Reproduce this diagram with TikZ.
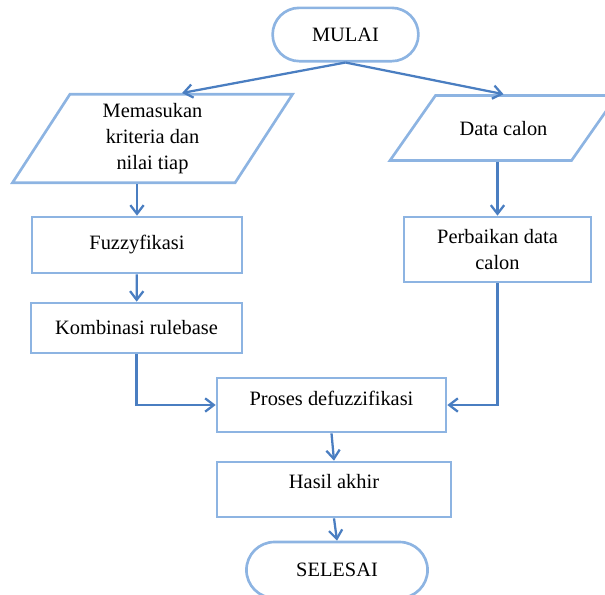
\documentclass[tikz,border=0pt]{standalone}
\usepackage{fontspec}
\setmainfont{Liberation Serif}
\usetikzlibrary{shapes.geometric,shapes.misc,arrows.meta,positioning}
\definecolor{boxblue}{RGB}{141,180,226}
\definecolor{lineblue}{RGB}{74,126,193}

\begin{document}
\begin{tikzpicture}[x=0.75pt,y=-0.75pt]
    \tikzstyle{terminal}=[rounded rectangle, draw=boxblue, line width=2pt, align=center, font=\fontsize{15.3}{18.9}\selectfont]
    \tikzstyle{io}=[trapezium, trapezium stretches body, draw=boxblue, line width=2pt, align=center, font=\fontsize{15.3}{19.2}\selectfont]
    \tikzstyle{proc}=[rectangle, draw=boxblue, line width=2pt, align=center, font=\fontsize{15.3}{18.9}\selectfont]
    \tikzstyle{connect}=[-{Straight Barb[length=6.5pt,width=10pt]}, draw=lineblue, line width=1.7pt]
      \useasboundingbox (0,0) rectangle (605,594);
      \node[terminal, minimum width=116pt, minimum height=40pt] (mulai) at (345.5,34.5) {MULAI};
      \node[io, trapezium left angle=57, trapezium right angle=123, inner ysep=7pt, minimum width=210pt] (input) at (152.5,138.5) {Memasukan\\kriteria dan\\nilai tiap};
      \node[io, trapezium left angle=55, trapezium right angle=125, text height=12pt, text depth=1.5pt, inner ysep=17.6pt, minimum width=170.25pt] (data) at (503.5,128) {Data calon};
      \node[proc, minimum width=157.5pt, minimum height=42pt] (fuzzy) at (137,245) {Fuzzyfikasi};
      \node[proc, minimum width=158.25pt, minimum height=37.5pt] (kombinasi) at (136.5,328) {Kombinasi rulebase};
      \node[proc, minimum width=140.25pt, minimum height=48.75pt] (perbaikan) at (497.5,249.5) {Perbaikan data\\calon};
      \node[proc, text height=10pt, text depth=10pt, minimum width=171.75pt, minimum height=40.5pt] (proses) at (331.5,405) {Proses defuzzifikasi};
      \node[proc, text height=10pt, text depth=12pt, minimum width=175.5pt, minimum height=41.25pt] (hasil) at (334,489.5) {Hasil akhir};
      \node[terminal, minimum width=142.5pt, minimum height=42pt] (selesai) at (337,570) {SELESAI};
      \draw[connect] (mulai.south) -- (input.top side);
      \draw[connect] (mulai.south) -- (data.north);
      \draw[connect] (input.bottom side -| fuzzy.north) -- (fuzzy.north);
      \draw[connect] (fuzzy) -- (kombinasi);
      \draw[connect] (kombinasi.south) |- (proses.west);
      \draw[connect] (data.bottom side -| perbaikan.north) -- (perbaikan.north);
      \draw[connect] (perbaikan.south) |- (proses.east);
      \draw[connect] (proses.south) -- (hasil.north);
      \draw[connect] (hasil.south) -- (selesai.north);
\end{tikzpicture}
\end{document}
